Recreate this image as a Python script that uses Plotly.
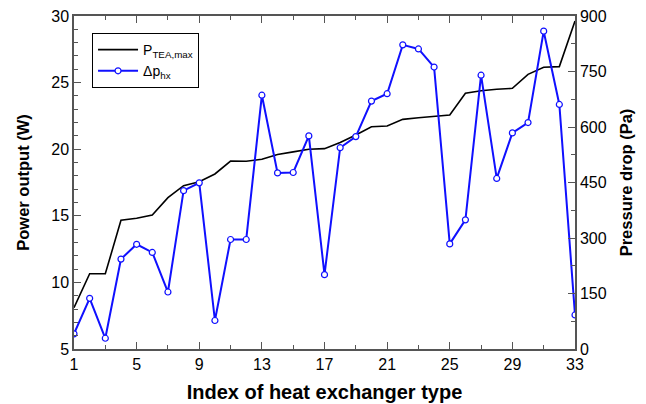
import plotly.graph_objects as go

index = list(range(1, 34))
p_tea_max = [8.1, 10.65, 10.65, 14.66, 14.81, 15.06, 16.36, 17.26, 17.56, 18.14,
             19.11, 19.1, 19.24, 19.6, 19.8, 20.0, 20.04, 20.5, 21.07, 21.69,
             21.74, 22.24, 22.36, 22.44, 22.57, 24.2, 24.39, 24.5, 24.57, 25.62,
             26.15, 26.2, 29.62]
dp_hx = [41, 137, 29, 243, 283, 261, 154, 428, 449, 77,
         296, 296, 686, 476, 477, 576, 201, 544, 574, 670,
         690, 822, 811, 762, 284, 349, 740, 461, 584, 612,
         859, 661, 92]
x_ticks = [1, 5, 9, 13, 17, 21, 25, 29, 33]
y_ticks = [5, 10, 15, 20, 25, 30]
y2_ticks = [0, 150, 300, 450, 600, 750, 900]

FONT = "Liberation Sans, Arial, sans-serif"
AX = "#555555"

fig = go.Figure()
fig.add_trace(go.Scatter(
    x=index, y=p_tea_max, mode="lines", name="P<sub>TEA,max</sub>",
    line=dict(color="black", width=1.6), yaxis="y"))
fig.add_trace(go.Scatter(
    x=index, y=dp_hx, mode="lines+markers", name="Δp<sub>hx</sub>",
    line=dict(color="#1010ff", width=2),
    marker=dict(symbol="circle", size=6, color="white",
                line=dict(color="#1010ff", width=1.2)),
    yaxis="y2"))

tickfont = dict(family=FONT, size=16, color="black")
xtitlefont = dict(family=FONT, size=20, color="black", weight="bold")
ytitlefont = dict(family=FONT, size=16.5, color="black", weight="bold")

# page body has an 8px default margin; size the figure to fill the rest
fig.update_layout(
    width=638, height=396,
    margin=dict(l=66, r=71, t=8, b=55),
    paper_bgcolor="white", plot_bgcolor="white",
    showlegend=True,
    legend=dict(x=0.036, y=0.949, xanchor="left", yanchor="top",
                bgcolor="white", bordercolor="black", borderwidth=1,
                font=dict(family=FONT, size=14, color="black"),
                tracegroupgap=0, itemwidth=40),
    xaxis=dict(range=[1, 33], tickvals=x_ticks, ticks="inside", ticklen=7,
               tickcolor=AX, showline=True, linecolor=AX, linewidth=1.5,
               mirror="ticks", showgrid=False, zeroline=False,
               tickfont=tickfont, automargin=False, ticklabeloverflow="allow",
               minor=dict(tick0=1, dtick=2, ticks="inside", ticklen=4,
                          tickcolor=AX, showgrid=False),
               title=dict(text="Index of heat exchanger type", font=xtitlefont,
                          standoff=13)),
    yaxis=dict(range=[5, 30], tickvals=y_ticks, ticks="inside", ticklen=7,
               tickcolor=AX, showline=True, linecolor=AX, linewidth=1.5,
               showgrid=False, zeroline=False, tickfont=tickfont,
               automargin=False, ticklabeloverflow="allow",
               minor=dict(tick0=5, dtick=1, ticks="inside", ticklen=4,
                          tickcolor=AX, showgrid=False),
               title=dict(text="Power output (W)", font=ytitlefont, standoff=17)),
    yaxis2=dict(range=[0, 900], tickvals=y2_ticks, ticks="inside", ticklen=7,
                tickcolor=AX, showline=True, linecolor=AX, linewidth=1.5,
                overlaying="y", side="right", anchor="x",
                showgrid=False, zeroline=False, tickfont=tickfont,
                automargin=False, ticklabeloverflow="allow",
                minor=dict(tick0=0, dtick=75, ticks="inside", ticklen=4,
                           tickcolor=AX, showgrid=False),
                title=dict(text="Pressure drop (Pa)", font=ytitlefont, standoff=15)),
)

fig.write_html("out.html")
